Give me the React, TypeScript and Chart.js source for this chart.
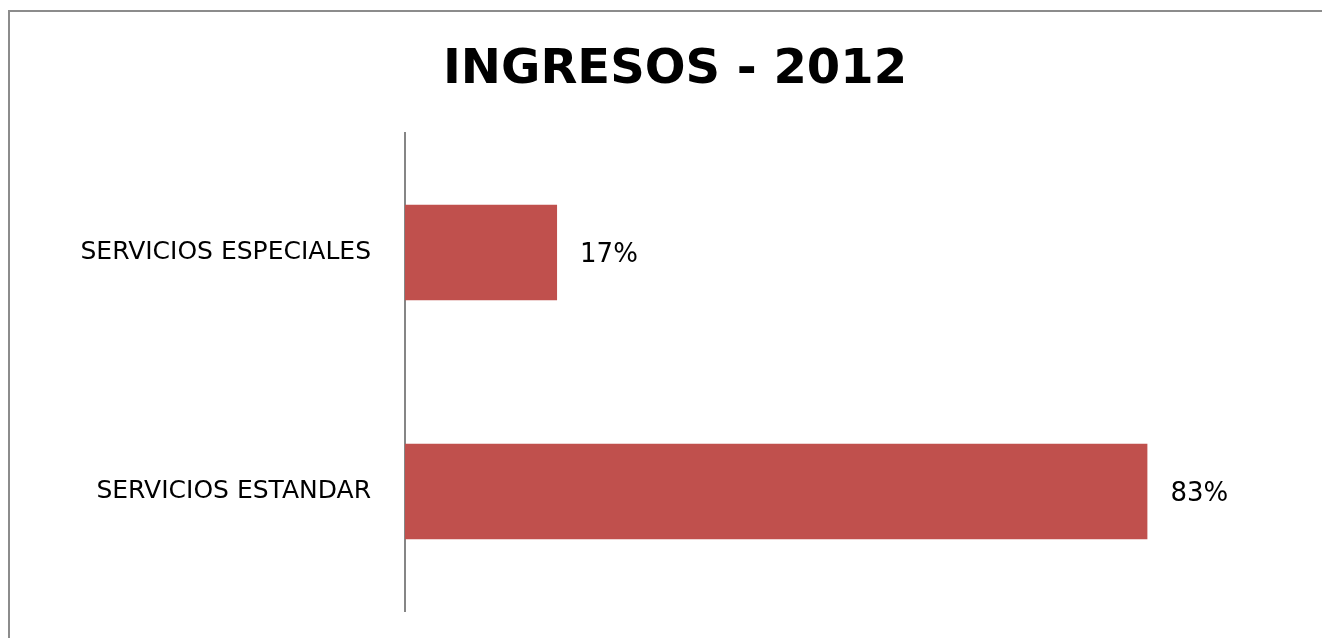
import React, { useEffect, useRef } from "react";
import { Chart, registerables } from "chart.js";

Chart.register(...registerables);

const titleText = "INGRESOS - 2012";
const categories = ["SERVICIOS ESPECIALES", "SERVICIOS ESTANDAR"];
const shares = [0.17, 0.83];
const valueLabels = ["17%", "83%"];

const BAR_COLOR = "#C0504D";
const FRAME_COLOR = "#8C8C8C";
const FONT = "'DejaVu Sans', sans-serif";

const framePlugin = {
  id: "frame",
  beforeDraw(chart: any) {
    const ctx = chart.ctx;
    ctx.save();
    ctx.fillStyle = "#ffffff";
    ctx.fillRect(0, 0, chart.width, chart.height);
    ctx.strokeStyle = FRAME_COLOR;
    ctx.lineWidth = 2;
    ctx.beginPath();
    ctx.moveTo(9, chart.height);
    ctx.lineTo(9, 11);
    ctx.lineTo(chart.width, 11);
    ctx.stroke();
    // title
    ctx.font = `bold 48px ${FONT}`;
    ctx.fillStyle = "#000000";
    ctx.textAlign = "center";
    ctx.textBaseline = "alphabetic";
    ctx.fillText(titleText, 675, 83);
    ctx.restore();
  },
};

const valueLabelPlugin = {
  id: "valueLabels",
  afterDatasetsDraw(chart: any) {
    const ctx = chart.ctx;
    const meta = chart.getDatasetMeta(0);
    ctx.save();
    ctx.font = `26px ${FONT}`;
    ctx.fillStyle = "#000000";
    ctx.textAlign = "left";
    ctx.textBaseline = "middle";
    meta.data.forEach((bar: any, i: number) => {
      ctx.fillText(valueLabels[i], bar.x + 23, bar.y + 3);
    });
    ctx.restore();
  },
};

export default function App() {
  const ref = useRef<HTMLCanvasElement>(null);
  useEffect(() => {
    const chart = new Chart(ref.current!, {
      type: "bar",
      data: {
        labels: categories,
        datasets: [
          {
            data: shares,
            backgroundColor: BAR_COLOR,
            barPercentage: 0.8,
            categoryPercentage: 0.5,
          },
        ],
      },
      options: {
        indexAxis: "y",
        responsive: false,
        animation: false,
        layout: { padding: { left: 20, right: 112, top: 133, bottom: 27 } },
        plugins: {
          legend: { display: false },
          tooltip: { enabled: false },
          title: { display: false },
        },
        scales: {
          x: { display: false, min: 0, max: 0.9 },
          y: {
            afterFit(scale: any) {
              scale.width = 385;
              scale.paddingTop = 0;
              scale.paddingBottom = 0;
            },
            grid: { display: false, drawTicks: false },
            border: { display: true, color: "#868686", width: 2 },
            ticks: {
              color: "#000000",
              padding: 34,
              font: { family: FONT, size: 25 },
            },
          },
        },
      },
      plugins: [framePlugin, valueLabelPlugin],
    });
    return () => chart.destroy();
  }, []);
  return (
    <div style={{ position: "fixed", left: 0, top: 0, width: 1322, height: 638 }}>
      <canvas ref={ref} width={1322} height={638} />
    </div>
  );
}
